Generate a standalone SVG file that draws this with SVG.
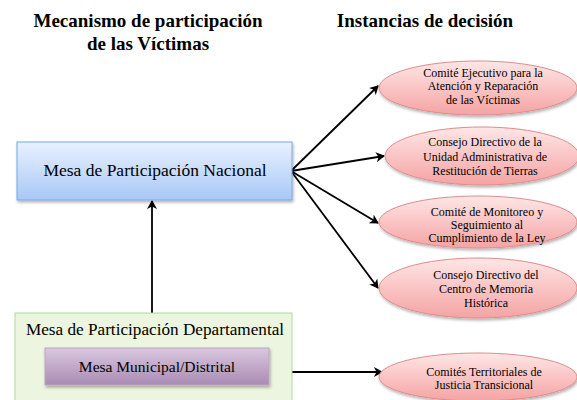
<svg xmlns="http://www.w3.org/2000/svg" width="577" height="400" viewBox="0 0 577 400">
<defs>
<linearGradient id="gBlue" x1="0" y1="0" x2="0" y2="1">
<stop offset="0" stop-color="#e8f1ff"/>
<stop offset="1" stop-color="#a8c8f6"/>
</linearGradient>
<linearGradient id="gPurple" x1="0" y1="0" x2="0" y2="1">
<stop offset="0" stop-color="#dac8df"/>
<stop offset="1" stop-color="#a98bb3"/>
</linearGradient>
<linearGradient id="gPink" x1="0" y1="0" x2="0" y2="1">
<stop offset="0" stop-color="#ffe6e6"/>
<stop offset="1" stop-color="#f5a3a3"/>
</linearGradient>
<marker id="arr" markerWidth="10" markerHeight="10" refX="8" refY="5" orient="auto" markerUnits="userSpaceOnUse">
<path d="M0,0 L9,5 L0,10 L2.5,5 Z" fill="#000"/>
</marker>
<filter id="sh" x="-10%" y="-10%" width="130%" height="140%">
<feDropShadow dx="1" dy="2" stdDeviation="1.5" flood-color="#000" flood-opacity="0.3"/>
</filter>
</defs>
<style>
text{font-family:"Liberation Serif","Times New Roman",serif;fill:#000;text-anchor:middle}
.title{font-size:19px;font-weight:bold}
.ell{fill:url(#gPink);stroke:#e08c8c;stroke-width:1}
.et{font-size:12px}
.conn{stroke:#000;stroke-width:1.8;fill:none;marker-end:url(#arr)}
</style>
<g id="titles">
<text class="title" x="148" y="27">Mecanismo de participación</text>
<text class="title" x="148" y="50">de las Víctimas</text>
<text class="title" x="425" y="27">Instancias de decisión</text>
</g>
<g id="connectors">
<line class="conn" x1="152" y1="313" x2="152" y2="201"/>
<line class="conn" x1="291" y1="171" x2="378" y2="86"/>
<line class="conn" x1="291" y1="171" x2="384" y2="156"/>
<line class="conn" x1="291" y1="171" x2="378" y2="223"/>
<line class="conn" x1="291" y1="171" x2="378" y2="288"/>
<line class="conn" x1="291" y1="372" x2="382" y2="372"/>
</g>
<g id="mesa-nacional">
<rect x="17" y="142" width="275" height="58" fill="url(#gBlue)" stroke="#79a8dc" stroke-width="1" filter="url(#sh)"/>
<text x="155" y="176" font-size="17.5">Mesa de Participación Nacional</text>
</g>
<g id="mesa-departamental">
<rect x="15" y="313" width="277" height="92" fill="#ebf5df" stroke="#b2d89a" stroke-width="1"/>
<text x="155" y="335" font-size="17.2">Mesa de Participación Departamental</text>
</g>
<g id="mesa-municipal">
<rect x="45" y="348" width="224" height="37" fill="url(#gPurple)" stroke="#bca6c4" stroke-width="1" filter="url(#sh)"/>
<text x="157" y="372" font-size="15.5" fill="#222">Mesa Municipal/Distrital</text>
</g>
<g id="comite-ejecutivo">
<ellipse class="ell" cx="478" cy="88" rx="99" ry="27" filter="url(#sh)"/>
<text class="et" x="483" y="77">Comité Ejecutivo para la</text>
<text class="et" x="483" y="90">Atención y Reparación</text>
<text class="et" x="483" y="104">de las Víctimas</text>
</g>
<g id="consejo-restitucion">
<ellipse class="ell" cx="482" cy="156" rx="97" ry="29" filter="url(#sh)"/>
<text class="et" x="485" y="146">Consejo Directivo de la</text>
<text class="et" x="485" y="161">Unidad Administrativa de</text>
<text class="et" x="485" y="175">Restitución de Tierras</text>
</g>
<g id="comite-monitoreo">
<ellipse class="ell" cx="478" cy="222" rx="99" ry="26" filter="url(#sh)"/>
<text class="et" x="487" y="216">Comité de Monitoreo y</text>
<text class="et" x="487" y="229">Seguimiento al</text>
<text class="et" x="487" y="242">Cumplimiento de la Ley</text>
</g>
<g id="consejo-memoria">
<ellipse class="ell" cx="478" cy="288" rx="99" ry="30" filter="url(#sh)"/>
<text class="et" x="486" y="279">Consejo Directivo del</text>
<text class="et" x="486" y="293">Centro de Memoria</text>
<text class="et" x="486" y="307">Histórica</text>
</g>
<g id="comites-territoriales">
<ellipse class="ell" cx="478" cy="377" rx="99" ry="24" filter="url(#sh)"/>
<text class="et" x="484" y="376">Comités Territoriales de</text>
<text class="et" x="484" y="389">Justicia Transicional</text>
</g>
</svg>
